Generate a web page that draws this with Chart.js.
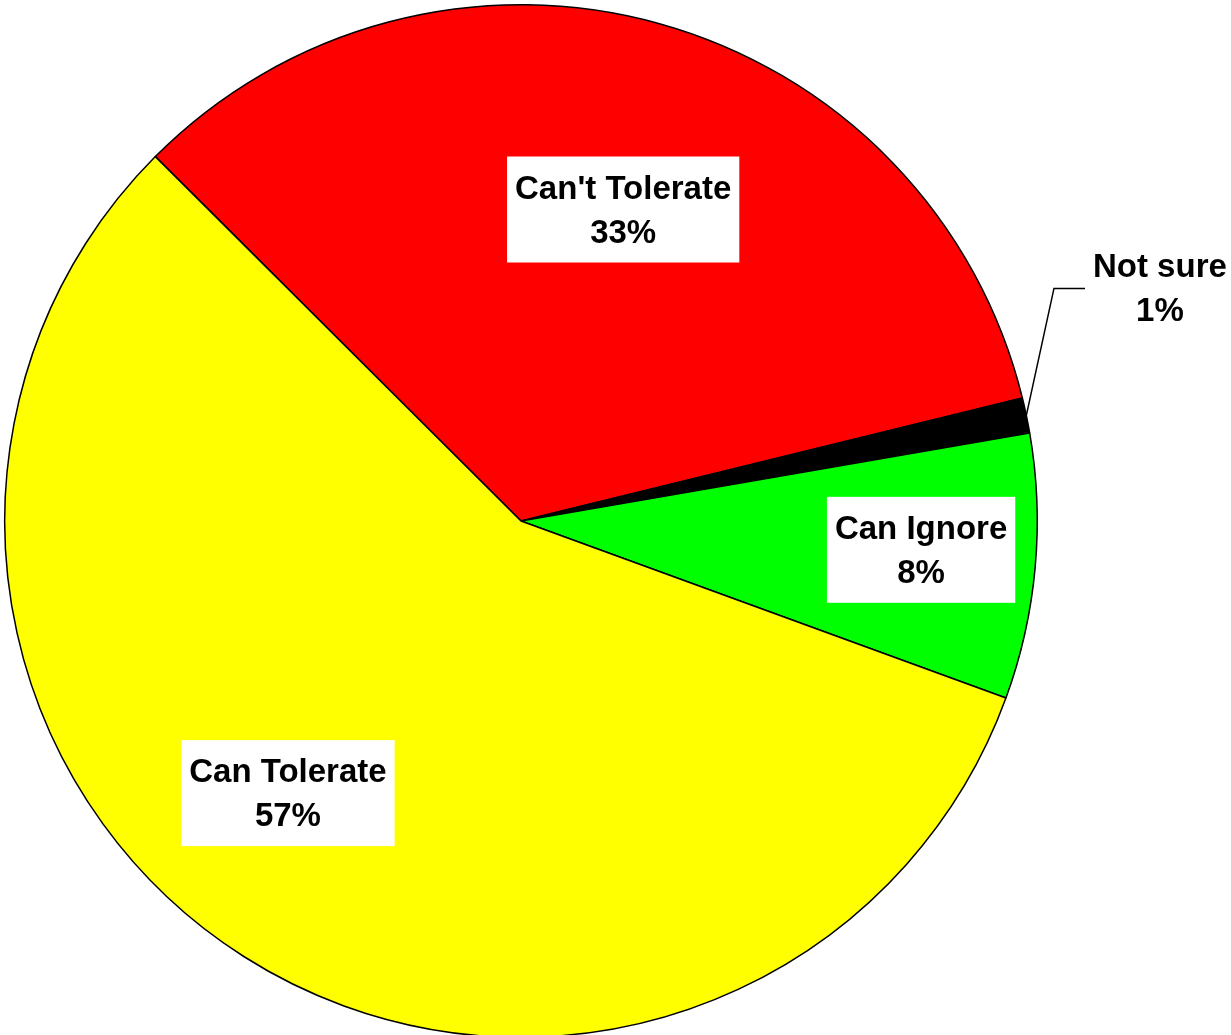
<!DOCTYPE html>
<html>
<head>
<meta charset="utf-8">
<script src="https://cdn.jsdelivr.net/npm/chart.js@4.4.1/dist/chart.umd.min.js"></script>
<style>
    html, body { margin: 0; padding: 0; background: #fff; overflow: hidden; }
    #wrap { width: 1231px; height: 1041px; position: relative; }
</style>
</head>
<body>
<div id="wrap"><canvas id="pie"></canvas></div>
<script>
// Slice data, clockwise from the upper-left edge
const categories = ["Can't Tolerate", 'Not sure', 'Can Ignore', 'Can Tolerate'];
const values = [33.7, 1.1, 8.3, 56.9];
const percentLabels = ['33%', '1%', '8%', '57%'];
const sliceColors = ['#ff0000', '#000000', '#00ff00', '#ffff00'];

// where each label sits: fraction of radius, angle shift (deg) from slice middle
const labelPlacement = [
    { r: 0.635, shift: 2.6, box: true },
    { r: 1.317, shift: -8.2, box: false, leader: true },
    { r: 0.777, shift: -1.0, box: true },
    { r: 0.694, shift: 8.1, box: true }
];

const labelFont = 'bold 33px "Liberation Sans", Arial, sans-serif';

const sliceLabels = {
    id: 'sliceLabels',
    afterDatasetsDraw(chart) {
        const ctx = chart.ctx;
        const meta = chart.getDatasetMeta(0);
        ctx.save();
        ctx.font = labelFont;
        meta.data.forEach(function(arc, i) {
            const p = arc.getProps(['x', 'y', 'startAngle', 'endAngle', 'outerRadius'], true);
            const place = labelPlacement[i];
            const mid = (p.startAngle + p.endAngle) / 2;
            const ang = mid + place.shift * Math.PI / 180;
            const cx = p.x + Math.cos(ang) * p.outerRadius * place.r;
            const cy = p.y + Math.sin(ang) * p.outerRadius * place.r;

            const lines = [categories[i], percentLabels[i]];
            const w = Math.max.apply(null, lines.map(l => ctx.measureText(l).width)) + 16;
            const h = 106;

            if (place.box) {
                ctx.fillStyle = '#ffffff';
                ctx.fillRect(cx - w / 2, cy - h / 2, w, h);
            }

            if (place.leader) {
                const sx = p.x + Math.cos(mid) * p.outerRadius;
                const sy = p.y + Math.sin(mid) * p.outerRadius;
                const ex = cx - w / 2;
                ctx.strokeStyle = '#000';
                ctx.lineWidth = 1.5;
                ctx.beginPath();
                ctx.moveTo(sx, sy);
                ctx.lineTo(ex - 31, cy);
                ctx.lineTo(ex, cy);
                ctx.stroke();
            }

            ctx.fillStyle = '#000';
            ctx.textAlign = 'center';
            ctx.textBaseline = 'alphabetic';
            ctx.fillText(lines[0], cx, cy - 11);
            ctx.fillText(lines[1], cx, cy + 33);
        });
        ctx.restore();
    }
};

new Chart(document.getElementById('pie'), {
    type: 'pie',
    data: {
        labels: categories,
        datasets: [{
            data: values,
            backgroundColor: sliceColors,
            borderColor: '#000000',
            borderWidth: 1.5
        }]
    },
    options: {
        responsive: true,
        maintainAspectRatio: false,
        animation: false,
        rotation: -45.1,
        layout: {
            padding: { left: 4, right: 193, top: 4, bottom: 3 }
        },
        plugins: {
            legend: { display: false },
            tooltip: { enabled: false }
        }
    },
    plugins: [sliceLabels]
});
</script>
</body>
</html>
